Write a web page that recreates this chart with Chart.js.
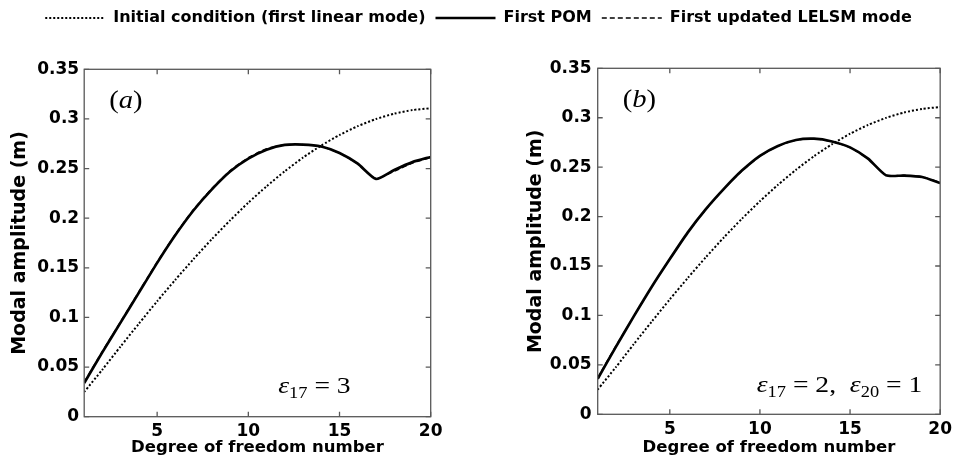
<!DOCTYPE html>
<html>
<head>
<meta charset="utf-8">
<title>Modal amplitude along the chain</title>
<script src="https://cdn.jsdelivr.net/npm/chart.js@4.4.0/dist/chart.umd.min.js"></script>
<style>
    body { margin: 0; background: #fff; }
    #wrap { position: relative; width: 957px; height: 470px; }
    canvas { position: absolute; top: 0; }
    #chartA { left: 0; }
    #chartB { left: 470px; }
</style>
</head>
<body>
<div id="wrap">
    <canvas id="chartA" width="957" height="470"></canvas>
    <canvas id="chartB" width="487" height="470"></canvas>
</div>
<script>
// degree of freedom index along the chain
var dof = [1, 2, 3, 4, 5, 6, 7, 8, 9, 10, 11, 12, 13, 14, 15, 16, 17, 18, 19, 20];

// starting guess, same in both panels
var initialMode = [0.0250, 0.0475, 0.0709, 0.0938, 0.1163, 0.1380, 0.1589, 0.1789, 0.1978, 0.2156,
                   0.2321, 0.2473, 0.2611, 0.2732, 0.2838, 0.2927, 0.2999, 0.3053, 0.3089, 0.3108];

// (a) eps17 = 3
var pomA = [0.034, 0.065, 0.095, 0.125, 0.155, 0.183, 0.208, 0.229, 0.247, 0.260,
            0.269, 0.2738, 0.2742, 0.2722, 0.2657, 0.2549, 0.2395, 0.2485, 0.2565, 0.2617];
var lelsmA = [0.035, 0.066, 0.096, 0.126, 0.156, 0.184, 0.209, 0.230, 0.248, 0.261,
              0.270, 0.2740, 0.2742, 0.2720, 0.2655, 0.2545, 0.2400, 0.2472, 0.2555, 0.2610];

// (b) eps17 = 2, eps20 = 1
var pomB = [0.036, 0.068, 0.099, 0.129, 0.157, 0.184, 0.2075, 0.228, 0.2465, 0.2615,
            0.2715, 0.2775, 0.2788, 0.2760, 0.2700, 0.2586, 0.2417, 0.2415, 0.2400, 0.2340];
var lelsmB = [0.037, 0.069, 0.099, 0.129, 0.157, 0.184, 0.207, 0.228, 0.246, 0.261,
              0.2712, 0.2773, 0.2787, 0.2758, 0.2697, 0.2583, 0.2420, 0.2418, 0.2403, 0.2345];

var xTicks = [5, 10, 15, 20];
var yTicks = [0, 0.05, 0.1, 0.15, 0.2, 0.25, 0.3, 0.35];
var seriesNames = ["Initial condition (first linear mode)", "First POM", "First updated LELSM mode"];

// panel tags and the stiffness note, as [text, style] runs
var tagA = [["(", "up"], ["a", "it"], [")", "up"]];
var tagB = [["(", "up"], ["b", "it"], [")", "up"]];
var noteA = [["\u03b5", "it"], ["17", "sub"], [" = 3", "up"]];
var noteB = [["\u03b5", "it"], ["17", "sub"], [" = 2,  ", "up"], ["\u03b5", "it"], ["20", "sub"], [" = 1", "up"]];

Chart.defaults.color = "#000";
Chart.defaults.animation = false;

var axisGray = "#585858";
var tickFont = { family: "DejaVu Sans", size: 17, weight: "bold" };
var xTitleFont = { family: "DejaVu Sans", size: 16.5, weight: "bold" };
var yTitleFont = { family: "DejaVu Sans", size: 19, weight: "bold" };
var legendFont = { family: "DejaVu Sans", size: 16, weight: "bold" };

function points(values) {
    return dof.map(function (d, i) { return { x: d, y: values[i] }; });
}

function lineSets(pom, lelsm) {
    return [
        { label: seriesNames[0], data: points(initialMode), borderColor: "#000", borderWidth: 2, borderDash: [2, 2] },
        { label: seriesNames[1], data: points(pom), borderColor: "#000", borderWidth: 2.7 },
        { label: seriesNames[2], data: points(lelsm), borderColor: "#000", borderWidth: 1.3, borderDash: [5, 3] }
    ];
}

// writes a run of serif text, squeezed out sideways a bit
function drawRuns(ctx, runs, x, y, size, stretch) {
    ctx.save();
    ctx.translate(x, y);
    ctx.scale(stretch, 1);
    ctx.fillStyle = "#000";
    ctx.textBaseline = "alphabetic";
    var cx = 0;
    runs.forEach(function (r) {
        var sub = r[1] === "sub";
        ctx.font = (r[1] === "it" ? "italic " : "") + (sub ? Math.round(size * 0.66) : size) + "px 'Liberation Serif'";
        ctx.fillText(r[0], cx, sub ? size * 0.22 : 0);
        cx += ctx.measureText(r[0]).width;
    });
    ctx.restore();
}

// box round the plot, with ticks pointing inwards on all four sides
var framePlugin = {
    id: "frame",
    afterDatasetsDraw: function (chart) {
        var ctx = chart.ctx, a = chart.chartArea, x = chart.scales.x, y = chart.scales.y;
        ctx.save();
        ctx.strokeStyle = axisGray;
        ctx.lineWidth = 1.3;
        ctx.strokeRect(a.left, a.top, a.right - a.left, a.bottom - a.top);
        ctx.beginPath();
        x.ticks.forEach(function (t) {
            var px = x.getPixelForValue(t.value);
            ctx.moveTo(px, a.bottom); ctx.lineTo(px, a.bottom - 5);
            ctx.moveTo(px, a.top); ctx.lineTo(px, a.top + 5);
        });
        y.ticks.forEach(function (t) {
            var py = y.getPixelForValue(t.value);
            ctx.moveTo(a.left, py); ctx.lineTo(a.left + 5, py);
            ctx.moveTo(a.right, py); ctx.lineTo(a.right - 5, py);
        });
        ctx.stroke();
        ctx.restore();
    }
};

function notesPlugin(tag, note, noteDx, noteDy) {
    return {
        id: "notes",
        afterDraw: function (chart) {
            var a = chart.chartArea;
            drawRuns(chart.ctx, tag, a.left + 25, a.top + 39, 26, 1.1);
            drawRuns(chart.ctx, note, a.left + noteDx, a.bottom - noteDy, 24, 1.15);
        }
    };
}

// keeps room between the legend row and the top of the plot
var legendSpace = {
    id: "legendSpace",
    beforeInit: function (chart) {
        var fit = chart.legend.fit;
        chart.legend.fit = function () {
            fit.call(this);
            this.height = 69.3;
        };
    }
};

function scalesFor(cfg) {
    return {
        x: {
            type: "linear", min: 1, max: 20,
            afterBuildTicks: function (s) { s.ticks = xTicks.map(function (v) { return { value: v }; }); },
            afterFit: function (s) { s.height = cfg.xHeight; },
            grid: { display: false, drawTicks: false },
            border: { display: false },
            ticks: { font: tickFont, padding: 5 },
            title: { display: true, text: "Degree of freedom number", font: xTitleFont, padding: { top: 0, bottom: 12 } }
        },
        y: {
            type: "linear", min: 0, max: 0.35,
            afterBuildTicks: function (s) { s.ticks = yTicks.map(function (v) { return { value: v }; }); },
            afterFit: function (s) { s.width = cfg.yWidth; },
            grid: { display: false, drawTicks: false },
            border: { display: false },
            ticks: { font: tickFont, padding: cfg.yPad, callback: function (v) { return String(+v.toFixed(2)); } },
            title: { display: true, text: "Modal amplitude (m)", font: yTitleFont, padding: { top: cfg.yTitlePad, bottom: 0 } }
        }
    };
}

// left panel, also carries the shared legend across the top
var scalesA = scalesFor({ xHeight: 53.3, yWidth: 84.2, yPad: 5, yTitlePad: 8.6 });
scalesA.pad = {
    type: "linear", position: "right", display: true,
    grid: { display: false, drawTicks: false }, border: { display: false }, ticks: { display: false },
    afterFit: function (s) { s.width = 957 - 430.7; }
};

var chartA = new Chart("chartA", {
    type: "line",
    data: { datasets: lineSets(pomA, lelsmA) },
    options: {
        responsive: false,
        layout: { padding: 0 },
        elements: { point: { radius: 0 }, line: { tension: 0.2 } },
        scales: scalesA,
        plugins: {
            tooltip: { enabled: false },
            legend: {
                display: true, position: "top",
                labels: {
                    usePointStyle: true, pointStyleWidth: 60, padding: 10, font: legendFont,
                    generateLabels: function (chart) {
                        return chart.data.datasets.map(function (ds, i) {
                            return {
                                text: ds.label, datasetIndex: i, hidden: false, pointStyle: "line",
                                strokeStyle: ds.borderColor, fillStyle: ds.borderColor,
                                lineWidth: ds.borderWidth, lineDash: ds.borderDash || []
                            };
                        });
                    }
                }
            }
        }
    },
    plugins: [legendSpace, framePlugin, notesPlugin(tagA, noteA, 194, 24)]
});

var chartB = new Chart("chartB", {
    type: "line",
    data: { datasets: lineSets(pomB, lelsmB) },
    options: {
        responsive: false,
        layout: { padding: { top: 68.3, right: 13.7, left: 0, bottom: 0 } },
        elements: { point: { radius: 0 }, line: { tension: 0.2 } },
        scales: scalesFor({ xHeight: 55.7, yWidth: 127.7, yPad: 6, yTitlePad: 55 }),
        plugins: { tooltip: { enabled: false }, legend: { display: false } }
    },
    plugins: [framePlugin, notesPlugin(tagB, noteB, 159, 22.6)]
});
</script>
</body>
</html>
